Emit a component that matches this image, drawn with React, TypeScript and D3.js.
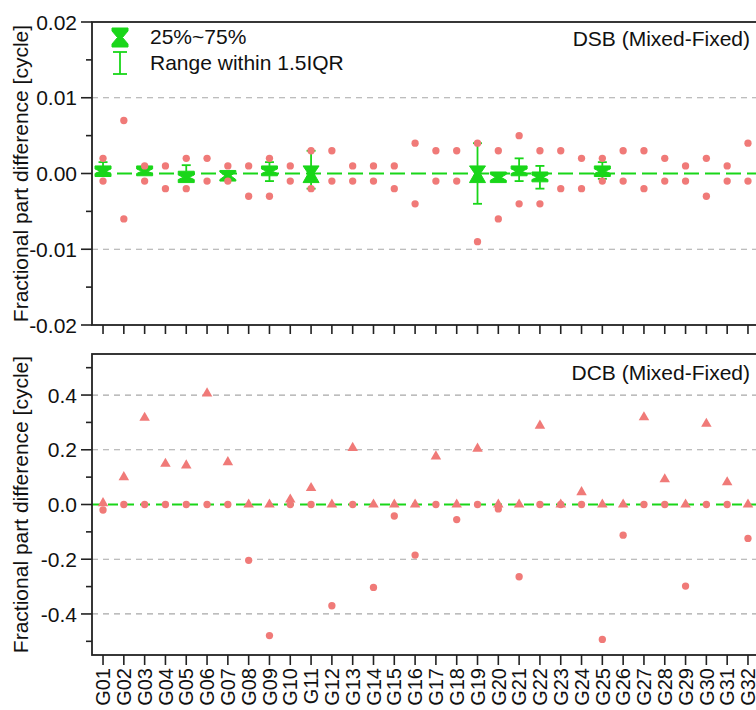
import React from "react";
import * as d3 from "d3";

const sats = Array.from({ length: 32 }, (_, i) => "G" + String(i + 1).padStart(2, "0"));

// DSB panel: two scattered values per satellite
const dsbHigh = [0.002, 0.007, 0.001, 0.001, 0.002, 0.002, 0.001, 0.001, 0.002, 0.001, 0.003, 0.003, 0.001, 0.001, 0.001, 0.004, 0.003, 0.003, 0.004, 0.003, 0.005, 0.003, 0.003, 0.002, 0.002, 0.003, 0.003, 0.002, 0.001, 0.002, 0.001, 0.004];
const dsbLow = [-0.001, -0.006, -0.001, -0.002, -0.002, -0.001, -0.001, -0.003, -0.003, -0.001, -0.002, -0.001, -0.001, -0.001, -0.002, -0.004, -0.001, -0.001, -0.009, -0.006, -0.004, -0.004, -0.002, -0.002, -0.001, -0.001, -0.002, -0.001, -0.001, -0.003, -0.001, -0.001];

// Box statistics (only for satellites showing a box)
const boxSats = ["G01", "G03", "G05", "G07", "G09", "G11", "G19", "G20", "G21", "G22", "G25"];
const boxQ3 = [0.001, 0.001, 0.0003, 0.0004, 0.001, 0.001, 0.001, 0.0002, 0.001, 0.0002, 0.001];
const boxQ1 = [-0.0004, -0.0003, -0.0012, -0.001, -0.0003, -0.0012, -0.0012, -0.0012, -0.0003, -0.0011, -0.0004];
const boxMed = [0.0003, 0.0003, -0.0005, -0.0003, 0.0003, 0, 0, -0.0005, 0.0003, -0.0005, 0.0003];
const boxNotch = [0.0003, 0.0003, 0.0003, 0.0005, 0.0003, 0.002, 0.002, 0.0004, 0.0003, 0.0003, 0.0003];
const boxWhiskHi = [0.0015, 0.001, 0.0011, 0.0004, 0.0015, 0.003, 0.004, 0.0002, 0.002, 0.001, 0.0015];
const boxWhiskLo = [-0.0004, -0.0003, -0.0012, -0.001, -0.001, -0.002, -0.004, -0.0012, -0.001, -0.002, -0.0007];

// DCB panel
const dcbTri = [0.005, 0.1, 0.317, 0.149, 0.143, 0.406, 0.155, 0, 0, 0.018, 0.06, 0, 0.207, 0, 0, 0, 0.176, 0, 0.204, 0, 0, 0.288, 0, 0.045, 0, 0, 0.319, 0.092, 0, 0.295, 0.081, 0];
const dcbCirc = [-0.02, 0, 0, 0, 0, 0, 0, -0.204, -0.479, 0, 0, -0.37, 0, -0.303, -0.042, -0.185, 0, -0.055, 0, -0.016, -0.264, 0, 0, 0, -0.493, -0.112, 0, 0, -0.298, 0, 0, -0.124];

const topTicks = [-0.02, -0.01, 0, 0.01, 0.02];
const topMinor = [-0.015, -0.005, 0.005, 0.015];
const topGrid = [-0.01, 0.01];
const botTicks = [-0.4, -0.2, 0, 0.2, 0.4];
const botMinor = [-0.5, -0.3, -0.1, 0.1, 0.3, 0.5];
const botGrid = [-0.4, -0.2, 0.2, 0.4];

const FONT = "'Liberation Sans', Arial, sans-serif";
const RED = "#f07a78";
const GREEN = "#19d619";
const AXIS = "#222";

export default function App() {
  const L = 92, R = 759;
  const x = d3.scalePoint<string>().domain(sats).range([L, R]).padding(0.53);
  const yT = d3.scaleLinear().domain([-0.02, 0.02]).range([325, 22]);
  const yB = d3.scaleLinear().domain([-0.55, 0.55]).range([655, 354]);
  const circ = d3.symbol().type(d3.symbolCircle).size(42)()!;
  const tri = d3.symbol().type(d3.symbolTriangle).size(48)()!;

  const boxPath = (cx: number, q3: number, q1: number, med: number, n: number, w: number, y: d3.ScaleLinear<number, number>) => {
    const top = y(q3), bot = y(q1), ym = y(med);
    const n1 = Math.max(top, y(med + n));
    const n2 = Math.min(bot, y(med - n));
    const hw = w / 2, wi = w * 0.18;
    return `M${cx - hw},${top}L${cx + hw},${top}L${cx + hw},${n1}L${cx + wi},${ym}L${cx + hw},${n2}L${cx + hw},${bot}L${cx - hw},${bot}L${cx - hw},${n2}L${cx - wi},${ym}L${cx - hw},${n1}Z`;
  };

  const yAxis = (y: d3.ScaleLinear<number, number>, ticks: number[], minor: number[], fmt: (v: number) => string) => (
    <g>
      {ticks.map((t) => (
        <g key={"t" + t}>
          <line x1={L - 11} x2={L} y1={y(t)} y2={y(t)} stroke={AXIS} strokeWidth={1.6} />
          <text x={L - 15} y={y(t)} dy="0.36em" textAnchor="end" fontSize={21} fontFamily={FONT} fill="#111">{fmt(t)}</text>
        </g>
      ))}
      {minor.map((t) => (
        <line key={"m" + t} x1={L - 6} x2={L} y1={y(t)} y2={y(t)} stroke={AXIS} strokeWidth={1.6} />
      ))}
    </g>
  );

  const fmtT = (v: number) => d3.format(".2f")(v).replace("\u2212", "-");
  const fmtB = (v: number) => d3.format(".1f")(v).replace("\u2212", "-");

  return (
    <svg width={756} height={710} style={{ position: "absolute", left: 0, top: 0, background: "#fff" }}>
      <rect x={0} y={0} width={756} height={710} fill="#fff" />
      {/* ===== TOP PANEL ===== */}
      {topGrid.map((g) => (
        <line key={"tg" + g} x1={L} x2={R} y1={yT(g)} y2={yT(g)} stroke="#a8a8a8" strokeWidth={1.2} strokeDasharray="6,5" />
      ))}
      <line x1={L} x2={R} y1={yT(0)} y2={yT(0)} stroke={GREEN} strokeWidth={2} strokeDasharray="15,6" strokeDashoffset={-4} />
      {boxSats.map((s, i) => {
        const cx = x(s)!;
        const cw = 4.5;
        return (
          <g key={"b" + s} fill={GREEN} stroke={GREEN}>
            {boxWhiskHi[i] > boxQ3[i] && (
              <>
                <line x1={cx} x2={cx} y1={yT(boxQ3[i])} y2={yT(boxWhiskHi[i])} strokeWidth={1.8} />
                <line x1={cx - cw} x2={cx + cw} y1={yT(boxWhiskHi[i])} y2={yT(boxWhiskHi[i])} strokeWidth={1.8} />
              </>
            )}
            {boxWhiskLo[i] < boxQ1[i] && (
              <>
                <line x1={cx} x2={cx} y1={yT(boxQ1[i])} y2={yT(boxWhiskLo[i])} strokeWidth={1.8} />
                <line x1={cx - cw} x2={cx + cw} y1={yT(boxWhiskLo[i])} y2={yT(boxWhiskLo[i])} strokeWidth={1.8} />
              </>
            )}
            <path d={boxPath(cx, boxQ3[i], boxQ1[i], boxMed[i], boxNotch[i], 16, yT)} strokeWidth={1} />
          </g>
        );
      })}
      {sats.map((s, i) => (
        <g key={"d" + s} fill={RED}>
          <path d={circ} transform={`translate(${x(s)},${yT(dsbHigh[i])})`} />
          <path d={circ} transform={`translate(${x(s)},${yT(dsbLow[i])})`} />
        </g>
      ))}
      {/* legend */}
      <g fill={GREEN} stroke={GREEN}>
        <path d="M112,28L128,28L128,31L122.5,37.5L128,44L128,47L112,47L112,44L117.5,37.5L112,31Z" strokeWidth={1} />
        <line x1={120} x2={120} y1={52} y2={74} strokeWidth={1.8} />
        <line x1={113} x2={127} y1={52} y2={52} strokeWidth={1.8} />
        <line x1={113} x2={127} y1={74} y2={74} strokeWidth={1.8} />
      </g>
      <text x={150} y={44} fontSize={21} fontFamily={FONT} fill="#111">25%~75%</text>
      <text x={150} y={70} fontSize={21} fontFamily={FONT} fill="#111">Range within 1.5IQR</text>
      <text x={750} y={46} textAnchor="end" fontSize={21} fontFamily={FONT} fill="#111">DSB (Mixed-Fixed)</text>
      <rect x={L} y={22} width={R - L} height={325 - 22} fill="none" stroke={AXIS} strokeWidth={1.8} />
      {yAxis(yT, topTicks, topMinor, fmtT)}
      {sats.map((s) => (
        <line key={"tx" + s} x1={x(s)} x2={x(s)} y1={325} y2={334} stroke={AXIS} strokeWidth={1.6} />
      ))}
      <text transform={`translate(28,${(22 + 325) / 2}) rotate(-90)`} textAnchor="middle" fontSize={21} fontFamily={FONT} fill="#111">Fractional part difference [cycle]</text>

      {/* ===== BOTTOM PANEL ===== */}
      {botGrid.map((g) => (
        <line key={"bg" + g} x1={L} x2={R} y1={yB(g)} y2={yB(g)} stroke="#a8a8a8" strokeWidth={1.2} strokeDasharray="6,5" />
      ))}
      <line x1={L} x2={R} y1={yB(0)} y2={yB(0)} stroke={GREEN} strokeWidth={2} strokeDasharray="10,6" />
      {sats.map((s, i) => (
        <g key={"c" + s} fill={RED}>
          <path d={tri} transform={`translate(${x(s)},${yB(dcbTri[i])})`} />
          <path d={circ} transform={`translate(${x(s)},${yB(dcbCirc[i])})`} />
        </g>
      ))}
      <text x={750} y={380} textAnchor="end" fontSize={21} fontFamily={FONT} fill="#111">DCB (Mixed-Fixed)</text>
      <rect x={L} y={354} width={R - L} height={655 - 354} fill="none" stroke={AXIS} strokeWidth={1.8} />
      {yAxis(yB, botTicks, botMinor, fmtB)}
      {sats.map((s) => (
        <g key={"bx" + s}>
          <line x1={x(s)} x2={x(s)} y1={655} y2={665} stroke={AXIS} strokeWidth={1.6} />
          <text transform={`translate(${x(s)},${668}) rotate(-90)`} dy="0.36em" textAnchor="end" fontSize={20} fontFamily={FONT} fill="#111">{s}</text>
        </g>
      ))}
      <text transform={`translate(28,${(354 + 655) / 2}) rotate(-90)`} textAnchor="middle" fontSize={21} fontFamily={FONT} fill="#111">Fractional part difference [cycle]</text>
    </svg>
  );
}
